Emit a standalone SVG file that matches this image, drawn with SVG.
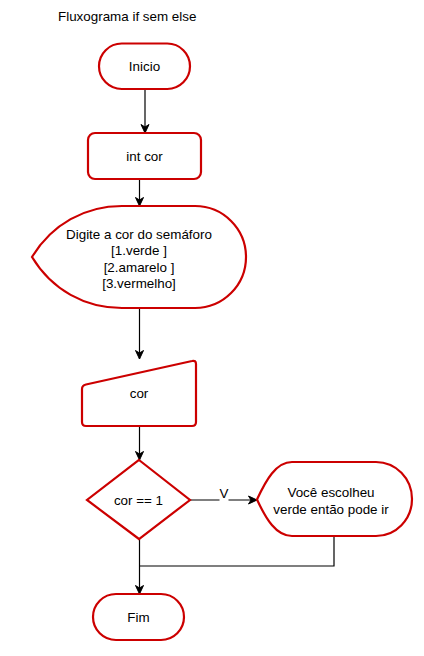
<svg xmlns="http://www.w3.org/2000/svg" width="424" height="656" viewBox="0 0 424 656">
<defs>
<marker id="arr" markerWidth="10" markerHeight="10" refX="9" refY="5" orient="auto" markerUnits="userSpaceOnUse">
<path d="M0.5,1 L9,5 L0.5,9 L3,5 Z" fill="#000" stroke="#000" stroke-width="1"/>
</marker>
</defs>
<style>
.n{fill:#fff;stroke:#cc0000;stroke-width:2.2}
.t{font-family:"Liberation Sans",Arial,sans-serif;font-size:13.4px;fill:#000;text-anchor:middle}
.c{fill:none;stroke:#000;stroke-width:1.2}
</style>
<rect width="424" height="656" fill="#fff"/>
<text x="58" y="21" class="t" style="text-anchor:start">Fluxograma if sem else</text>
<g id="connectors">
<line class="c" x1="145" y1="89" x2="145" y2="133" marker-end="url(#arr)"/>
<line class="c" x1="139.5" y1="179" x2="139.5" y2="206" marker-end="url(#arr)"/>
<line class="c" x1="139.5" y1="308" x2="139.5" y2="359" marker-end="url(#arr)"/>
<line class="c" x1="139.5" y1="426" x2="139.5" y2="460" marker-end="url(#arr)"/>
<line class="c" x1="190" y1="500" x2="257" y2="500" marker-end="url(#arr)"/>
<polyline class="c" points="334,537 334,566 139.5,566"/>
<line class="c" x1="139.5" y1="539" x2="139.5" y2="594" marker-end="url(#arr)"/>
<rect x="219.5" y="489" width="9" height="12" fill="#fff"/>
<text x="224" y="498" class="t">V</text>
</g>
<g id="inicio">
<rect class="n" x="99" y="43.5" width="91" height="45.5" rx="22.75"/>
<text x="144.5" y="71" class="t">Inicio</text>
</g>
<g id="intcor">
<rect class="n" x="88" y="133" width="113" height="46" rx="7"/>
<text x="144.5" y="161" class="t">int cor</text>
</g>
<g id="digite">
<path class="n" d="M32,257 C52,224 85,206 122,206 L195,206 A51,51 0 0 1 246,257 A51,51 0 0 1 195,308 L122,308 C85,308 52,290 32,257 Z"/>
<text class="t"><tspan x="139" y="239">Digite a cor do semáforo</tspan><tspan x="139" y="255">[1.verde ]</tspan><tspan x="139" y="271.5">[2.amarelo ]</tspan><tspan x="139" y="287.5">[3.vermelho]</tspan></text>
</g>
<g id="cor">
<path class="n" d="M82,389 Q82,385.5 86,384.5 L192,361 Q196,360 196,364 L196,422 Q196,426 192,426 L86,426 Q82,426 82,422 Z"/>
<text x="139" y="397.5" class="t">cor</text>
</g>
<g id="decisao">
<polygon class="n" points="139,460 190,500 139,539 87,500"/>
<text x="138.5" y="504.5" class="t">cor == 1</text>
</g>
<g id="voce">
<path class="n" d="M257,499.5 C266,480 276,462 292,462 L376,462 A36,37 0 0 1 412,499 A36,37 0 0 1 376,536 L292,536 C276,536 266,519 257,499.5 Z"/>
<text class="t"><tspan x="331" y="496.5">Você escolheu</tspan><tspan x="331" y="514">verde então pode ir</tspan></text>
</g>
<g id="fim">
<rect class="n" x="93" y="594" width="91" height="46" rx="23"/>
<text x="138.5" y="621.5" class="t">Fim</text>
</g>
</svg>
